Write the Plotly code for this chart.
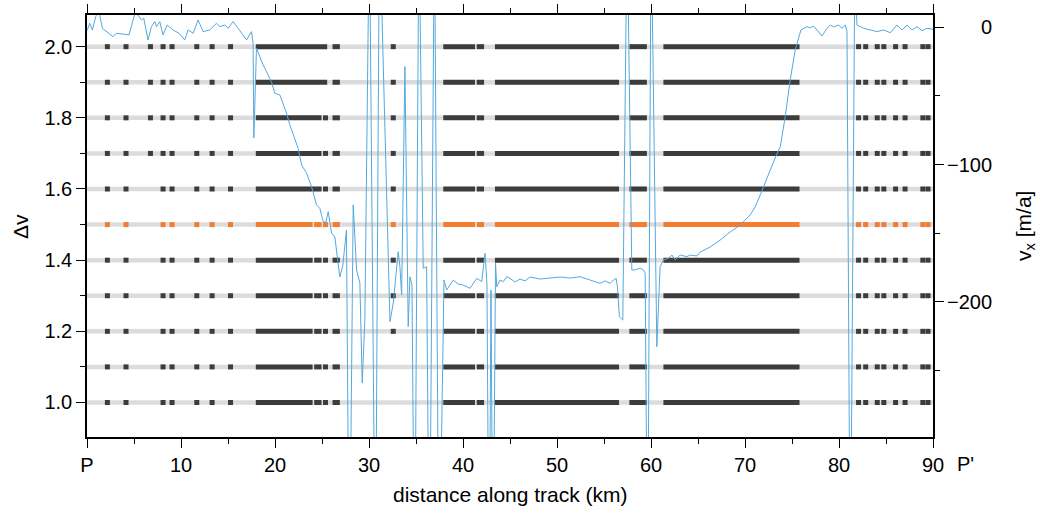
import plotly.graph_objects as go

# ---------------- data ----------------
dv_rows = [1.0, 1.1, 1.2, 1.3, 1.4, 1.5, 1.6, 1.7, 1.8, 1.9, 2.0]
highlight_row = 1.5

rows_group_a = [2.0, 1.9]
rows_group_b = [1.8, 1.7, 1.6]
rows_group_c = [1.5, 1.4, 1.3, 1.2, 1.1, 1.0]

# runs of consecutive selected samples [start_km, end_km]
runs_group_a = [[17.96, 25.55]]
runs_group_b = [[17.96, 24.95]]
runs_group_c = [[17.96, 24.00], [24.17, 24.95]]
runs_shared = [[26.12, 26.90], [37.90, 41.28], [41.46, 42.24], [43.40, 56.60],
               [57.70, 59.56], [61.32, 75.80]]

# isolated selected samples (km)
squares_shared = [2.17, 4.15, 8.09, 9.05, 11.68, 13.31, 15.27,
                  82.08, 82.84, 84.07, 84.77, 86.02, 87.03, 88.92, 89.47]
square_a_km = 6.75
square_a_rows = [2.0, 1.9, 1.8, 1.7]
square_b_km = 25.37
square_b_rows = [1.8, 1.7, 1.6, 1.5, 1.4, 1.3, 1.2, 1.1, 1.0]
square_c_km = 32.58
square_c_rows = [2.0, 1.9, 1.8, 1.7, 1.6, 1.5, 1.4, 1.3, 1.2]

# velocity profile v_x (m/a) along track (km)
vx_km = [
    0.00, 0.29, 0.57, 0.93, 1.17, 1.35, 1.64, 2.07, 2.77, 3.13,
    3.83, 4.47, 5.08, 5.43, 5.79, 6.04, 6.49, 6.86, 7.21, 7.39,
    7.74, 8.09, 8.52, 9.16, 9.79, 10.40, 10.75, 11.29, 11.82, 12.35,
    13.06, 13.78, 14.13, 14.66, 15.01, 15.54, 16.08, 16.61, 16.97, 17.50,
    17.67, 17.75, 18.03,
    18.39, 18.74, 19.27, 19.66, 19.98, 20.52, 20.83, 21.23, 21.58, 21.93,
    22.46, 22.83, 23.36, 23.89, 24.14, 24.42, 24.77, 25.13, 25.41, 25.66,
    26.02, 26.37, 26.69, 26.90, 27.22, 27.60, 27.91, 28.32, 28.68, 29.03,
    29.28, 29.56, 30.04, 30.68, 31.11, 32.23, 32.58, 33.11, 33.29, 33.47,
    33.82, 34.17, 34.36, 34.57, 34.86, 35.31, 35.77, 36.13, 36.43, 36.96,
    37.44, 37.98,
    38.26, 38.97, 39.47, 40.03, 40.74, 41.46, 41.99, 42.34, 42.55, 42.77,
    42.98, 43.19, 43.46, 43.59, 43.94, 44.29, 44.65, 45.00, 45.53, 46.07,
    46.60, 47.13, 48.20, 49.26, 50.33, 51.39, 52.45, 53.52, 54.58, 55.12,
    55.65, 56.00, 56.29, 56.43, 56.64, 57.00, 57.46, 57.96, 58.31, 58.84,
    59.19, 59.38, 59.64, 60.01, 60.62, 60.97,
    61.32, 61.86, 62.22, 62.57, 63.10, 63.81, 64.17, 64.88, 65.23, 66.29,
    67.36, 68.42, 69.49, 70.55, 71.08, 71.62, 72.15, 72.68, 73.21, 73.75,
    74.28, 74.81, 75.34, 75.95,
    76.59, 76.94, 77.29, 77.65, 78.19, 78.72, 79.07, 79.42, 79.95, 80.32,
    80.67, 80.85, 81.20, 81.68, 81.91, 82.62, 83.32, 84.04, 84.74, 85.46,
    86.17, 86.70, 87.24, 87.77, 88.30, 88.83, 89.36, 90.00,
]
vx_vals = [
    -2.4, 3.0, -1.9, 7.8, 11.2, 9.0, -0.7, -3.1, -6.8, -4.3,
    -4.8, -5.5, 9.8, 9.0, 5.4, 6.6, -9.2, 0.5, 4.2, 0.5,
    4.2, -5.5, 1.7, -1.9, -4.3, -9.2, -1.9, -4.3, 5.4, -3.1,
    -1.9, 3.0, 0.5, 1.7, -0.7, 4.2, -0.7, -5.5, -9.2, -3.1,
    -11.6, -80.6, -15.2,
    -21.6, -27.4, -34.7, -40.5, -48.0, -49.3, -55.1, -62.6, -71.1, -78.4,
    -88.1, -100.3, -106.3, -116.1, -122.2, -129.4, -131.9, -141.6, -142.1, -134.3,
    -149.9, -152.8, -171.0, -181.9, -173.2, -147.7, -420, -129.4, -176.8, -186.3,
    -259.2, -213.3, 80, -420, 80, -214.5, -200.9, -163.5, -174.4, -195.0,
    -28.6, -218.1, -181.7, -187.8, -420, 80, -175.6, -174.4, -420, 80,
    -420, -184.1,
    -191.4, -184.1, -187.0, -187.8, -190.2, -182.9, -185.3, -164.6, -187.8, -420,
    -191.4, -420, -171.9, -189.0, -184.1, -185.3, -181.7, -182.9, -185.6, -183.4,
    -184.8, -181.9, -183.4, -182.7, -181.9, -182.7, -181.7, -184.1, -186.5, -184.8,
    -186.5, -184.1, -182.9, -189.2, -210.9, -213.3, 80, -176.8, -176.8, -175.4,
    -176.8, -179.2, -420, 80, -232.7, -174.4,
    -169.5, -168.3, -165.9, -169.5, -165.9, -167.1, -165.9, -166.6, -163.7, -160.1,
    -155.0, -149.1, -144.0, -136.7, -130.9, -122.1, -112.7, -103.9, -95.2, -87.0,
    -65.1, -38.3, -16.5, -1.9,
    0.5, -0.4, 1.0, -1.9, -6.3, -0.7, 1.7, 0.3, 1.7, -0.7,
    1.7, -3.1, -420, 40, 1.7, -0.7, -1.9, -3.1, -1.9, -3.9,
    1.7, -1.9, 1.7, -1.9, 0.5, -2.4, -0.7, -1.4,
]

x_tickvals = [0, 10, 20, 30, 40, 50, 60, 70, 80, 90]
x_ticktext = ["P", "10", "20", "30", "40", "50", "60", "70", "80", "90"]
x_minor = [5, 15, 25, 35, 45, 55, 65, 75, 85]
dv_tickvals = [1.0, 1.2, 1.4, 1.6, 1.8, 2.0]
dv_minor = [1.1, 1.3, 1.5, 1.7, 1.9]
vx_tickvals = [0, -100, -200]
vx_ticktext = ["0", "\u2212100", "\u2212200"]
vx_minor = [-50, -150, -250]

# ---------------- styles ----------------
GRAY = "#dcdcdc"
DARK = "#3c3c3c"
ORANGE = "#f47b30"
BLUE = "#55a8dd"
FONT = "Liberation Sans, Arial, Helvetica, sans-serif"
FS = 20
FS_TITLE = 21

fig = go.Figure()

# gray bands (all samples)
bx, by = [], []
for r in dv_rows:
    bx += [0, 90, None]
    by += [r, r, None]
fig.add_trace(go.Scatter(x=bx, y=by, mode="lines", line=dict(color=GRAY, width=4.5),
                         hoverinfo="skip", yaxis="y"))


def row_runs(r):
    if r in rows_group_a:
        return runs_group_a + runs_shared
    if r in rows_group_b:
        return runs_group_b + runs_shared
    return runs_group_c + runs_shared


def row_squares(r):
    s = list(squares_shared)
    if r in square_a_rows:
        s.append(square_a_km)
    if r in square_b_rows:
        s.append(square_b_km)
    if r in square_c_rows:
        s.append(square_c_km)
    return s


for color, rows in [(DARK, [r for r in dv_rows if r != highlight_row]), (ORANGE, [highlight_row])]:
    rx, ry, sx, sy = [], [], [], []
    for r in rows:
        for a, b in row_runs(r):
            rx += [a, b, None]
            ry += [r, r, None]
        for s in row_squares(r):
            sx.append(s)
            sy.append(r)
    fig.add_trace(go.Scatter(x=rx, y=ry, mode="lines", line=dict(color=color, width=5),
                             hoverinfo="skip", yaxis="y"))
    fig.add_trace(go.Scatter(x=sx, y=sy, mode="markers",
                             marker=dict(symbol="square", size=5, color=color, line=dict(width=0)),
                             hoverinfo="skip", yaxis="y"))

# velocity profile on right axis
fig.add_trace(go.Scatter(x=vx_km, y=vx_vals, mode="lines", line=dict(color=BLUE, width=1),
                         hoverinfo="skip", yaxis="y2"))

axis_common = dict(showgrid=False, zeroline=False, showline=True, linecolor="black",
                   linewidth=1.5, ticks="outside", tickcolor="black", tickwidth=1, ticklen=9,
                   automargin=False)
minor_common = dict(tickmode="array", ticks="outside", ticklen=5, tickcolor="black", tickwidth=1)

fig.update_layout(
    width=1039, height=508,
    margin=dict(l=87, r=106, t=15, b=71, autoexpand=False),
    plot_bgcolor="white", paper_bgcolor="white",
    showlegend=False,
    font=dict(family=FONT, size=FS, color="black"),
    xaxis=dict(range=[0, 90], tickmode="array", tickvals=x_tickvals, ticktext=x_ticktext,
               mirror="ticks", minor=dict(tickvals=x_minor, **minor_common),
               **axis_common),
    yaxis=dict(range=[0.903, 2.089], tickmode="array", tickvals=dv_tickvals,
               ticktext=["%.1f" % v for v in dv_tickvals],
               minor=dict(tickvals=dv_minor, **minor_common),
               **axis_common),
    yaxis2=dict(range=[-298.5, 9.0], overlaying="y", side="right", tickmode="array",
                tickvals=vx_tickvals, showticklabels=False,
                minor=dict(tickvals=vx_minor, **minor_common),
                **axis_common),
)

ann = []
for v, t in zip(vx_tickvals, vx_ticktext):
    ann.append(dict(x=1.0721, xref="paper", y=v, yref="y2", text=t, showarrow=False,
                    xanchor="right", yanchor="middle", font=dict(size=FS)))
ann.append(dict(x=1.039, xref="paper", y=-0.063, yref="paper", text="P'", showarrow=False,
                xanchor="center", yanchor="middle", font=dict(size=FS)))
ann.append(dict(x=0.5, xref="paper", y=-0.137, yref="paper", text="distance along track (km)",
                showarrow=False, xanchor="center", yanchor="middle", font=dict(size=FS_TITLE)))
ann.append(dict(x=-0.0792, xref="paper", y=0.5, yref="paper", text="\u0394v", textangle=-90,
                showarrow=False, xanchor="center", yanchor="middle", font=dict(size=FS_TITLE)))
ann.append(dict(x=1.1087, xref="paper", y=0.5, yref="paper", text="v<sub>x</sub> [m/a]",
                textangle=-90, showarrow=False, xanchor="center", yanchor="middle",
                font=dict(size=FS_TITLE)))
fig.update_layout(annotations=ann)

fig.write_html("out.html")
